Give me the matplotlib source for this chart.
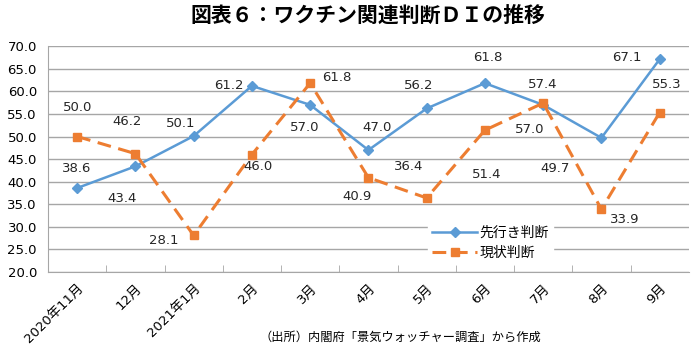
import numpy as np
import matplotlib
matplotlib.use("Agg")
import matplotlib.pyplot as plt

plt.rcParams['font.family'] = ['DejaVu Sans', 'Noto Sans CJK JP']

months = ["2020年11月", "12月", "2021年1月", "2月", "3月", "4月", "5月", "6月", "7月", "8月", "9月"]
sakiyuki = [38.6, 43.4, 50.1, 61.2, 57.0, 47.0, 56.2, 61.8, 57.0, 49.7, 67.1]
genjo = [50.0, 46.2, 28.1, 46.0, 61.8, 40.9, 36.4, 51.4, 57.4, 33.9, 55.3]

# label offsets (pixels) picked by eye
off_blue = [(0, 20), (-13, -32), (-13, 13), (-23, 0), (-5, -23), (9, 23),
            (-8, 23), (3, 26), (-13, -25), (-46, -31), (-33, 2)]
off_orange = [(0, 29), (-8, 32), (-30, -5), (6, -12), (27, 6), (-11, -19),
              (-18, 31), (2, -44), (0, 19), (23, -10), (7, 28)]

blue = "#5b9bd5"
orange = "#ed7d31"

fig = plt.figure(figsize=(6.98, 3.52), dpi=100)
ax = fig.add_axes([0.0688, 0.227, 0.918, 0.642])

x = np.arange(len(months))
ax.plot(x, sakiyuki, color=blue, lw=1.8, marker="D", ms=5, label="先行き判断", zorder=3)
ax.plot(x, genjo, color=orange, lw=2.2, ls=(0, (4.5, 2.5)), marker="s", ms=6,
        label="現状判断", zorder=3)

for i in range(len(x)):
    ax.annotate(f"{sakiyuki[i]:.1f}", (x[i], sakiyuki[i]), xytext=off_blue[i],
                textcoords="offset pixels", ha="center", va="center", fontsize=9.5,
                color="#262626")
    ax.annotate(f"{genjo[i]:.1f}", (x[i], genjo[i]), xytext=off_orange[i],
                textcoords="offset pixels", ha="center", va="center", fontsize=9.5,
                color="#262626")

ax.set_xlim(-0.5, len(months) - 0.5)
ax.set_ylim(20, 70)
ax.set_yticks(np.arange(20, 71, 5))
ax.set_yticklabels([f"{v:.1f}" for v in np.arange(20, 71, 5)], fontsize=9.5)
ax.yaxis.grid(True, color="#a6a6a6", lw=1)
ax.set_axisbelow(True)
ax.tick_params(axis="y", length=0, pad=8)

ax.set_xticks(x)
ax.set_xticklabels(months, rotation=45, ha="right", rotation_mode="anchor", fontsize=9.5)
ax.tick_params(axis="x", length=0, pad=7)
ax.set_xticks(np.arange(0.5, len(months) - 1, 1), minor=True)
ax.tick_params(axis="x", which="minor", direction="in", length=5, color="#a6a6a6")

for s in ["top", "right"]:
    ax.spines[s].set_visible(False)
for s in ["left", "bottom"]:
    ax.spines[s].set_color("#a6a6a6")

leg = ax.legend(loc="center", bbox_to_anchor=(0.691, 0.13), frameon=True,
                fontsize=10, handlelength=3.2, borderpad=0.3, labelspacing=0.4,
                handletextpad=0.2, fancybox=False)
leg.get_frame().set_edgecolor("white")
leg.get_frame().set_facecolor("white")
leg.get_frame().set_alpha(1)

fig.text(0.527, 0.957, "図表６：ワクチン関連判断ＤＩの推移", ha="center", va="center",
         fontsize=15, fontweight="bold", family=["Noto Sans CJK JP"])
fig.text(0.573, 0.043, "（出所）内閣府「景気ウォッチャー調査」から作成", ha="center", va="center",
         fontsize=8.8, family=["Noto Sans CJK JP"])

fig.savefig("out.png", dpi=100)
